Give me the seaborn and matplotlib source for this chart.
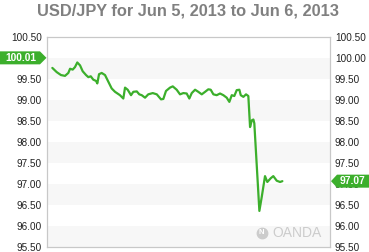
import matplotlib
matplotlib.use("Agg")
import matplotlib.pyplot as plt
import matplotlib.transforms as mtransforms
from matplotlib.patches import Polygon
import seaborn as sns
import pandas as pd

# ---- data (hours since chart start, USD/JPY rate) ----
hours = [0.49, 0.87, 1.24, 1.59, 1.88, 2.03, 2.26, 2.46, 2.66, 2.90,
         3.13, 3.42, 3.62, 3.83, 4.05, 4.29, 4.40, 4.55, 4.78, 5.07,
         5.36, 5.65, 5.94, 6.37, 6.66, 6.81, 7.04, 7.33, 7.53, 7.83,
         8.05, 8.26, 8.55, 8.83, 9.22, 9.57, 9.94, 10.14, 10.37, 10.72,
         10.96, 11.30, 11.59, 11.88, 12.17, 12.40, 12.61, 12.90, 13.18, 13.48,
         13.77, 14.05, 14.26, 14.49, 14.78, 15.07, 15.36, 15.65, 15.88, 16.09,
         16.31, 16.52, 16.75, 16.87, 17.10, 17.33, 17.53, 17.68, 17.83, 17.97,
         18.05, 18.49, 18.70, 18.98, 19.18, 19.48, 19.70, 20.00, 20.29, 20.49]
rates = [99.77, 99.67, 99.60, 99.58, 99.65, 99.75, 99.73, 99.79, 99.90, 99.83,
         99.69, 99.60, 99.55, 99.57, 99.49, 99.46, 99.40, 99.62, 99.65, 99.60,
         99.44, 99.28, 99.20, 99.12, 99.04, 99.30, 99.25, 99.12, 99.20, 99.21,
         99.14, 99.12, 99.06, 99.14, 99.17, 99.14, 99.02, 99.03, 99.22, 99.30,
         99.33, 99.25, 99.14, 99.17, 99.16, 99.04, 99.17, 99.25, 99.20, 99.14,
         99.20, 99.26, 99.25, 99.14, 99.12, 99.16, 99.12, 99.06, 98.96, 99.12,
         99.10, 99.24, 99.25, 99.12, 99.08, 99.14, 99.10, 98.36, 98.52, 98.54,
         98.45, 96.36, 96.70, 97.19, 97.05, 97.14, 97.19, 97.08, 97.05, 97.07]
y_ticks = [95.5, 96.0, 96.5, 97.0, 97.5, 98.0, 98.5, 99.0, 99.5, 100.0, 100.5]
x_ticks = [3.5, 6.5, 9.5, 12.5, 15.5, 18.5, 21.5, 24.5]
open_rate = 100.01
last_rate = 97.07
title = "USD/JPY for Jun 5, 2013 to Jun 6, 2013"

df = pd.DataFrame({"hour": hours, "rate": rates})

sns.set_style("white")
plt.rcParams["font.family"] = ["Liberation Sans", "DejaVu Sans"]

W, H = 369, 252
fig = plt.figure(figsize=(W / 100, H / 100), dpi=100)
ax = fig.add_axes([46.7 / W, 1 - 247 / H, (330 - 46.7) / W, (247 - 37.3) / H])

green = "#3caf2c"

# alternating bands
for i in range(0, len(y_ticks) - 1, 2):
    ax.axhspan(y_ticks[i], y_ticks[i + 1], color="#f7f7f7", lw=0, zorder=0)

sns.lineplot(data=df, x="hour", y="rate", ax=ax, color=green, lw=1.6, zorder=3)

ax.set_xlim(0, 24.63)
ax.set_ylim(95.5, 100.5)
ax.set_xlabel("")
ax.set_ylabel("")
ax.set_yticks(y_ticks)
ax.set_yticklabels([f"{v:.2f}" for v in y_ticks])
ax.set_xticks(x_ticks)
ax.set_xticklabels([])
ax.tick_params(axis="y", which="both", length=0, pad=3.5, labelsize=7.2,
               labelcolor="#222222", left=False, right=False,
               labelleft=True, labelright=True)
# the left 100.00 label lies under the opening-rate tag
for lab, v in zip(ax.yaxis.get_ticklabels(), y_ticks):
    if abs(v - round(open_rate * 2) / 2) < 1e-9:
        lab.set_visible(False)
ax.tick_params(axis="x", direction="in", length=3, color="#c8c8c8", width=0.8)
for s in ax.spines.values():
    s.set_color("#c8c8c8")
    s.set_linewidth(0.9)

fig.text(188 / W, 1 - 11 / H, title, ha="center", va="center",
         fontsize=11.8, fontweight="bold", color="#808080")

# value tags
blend = mtransforms.blended_transform_factory(fig.transFigure, ax.transData)
hh = 0.155  # half height in data units
def tag(x0, x1, tip, val, left):
    if left:
        pts = [(x0, val - hh), (x1, val - hh), (tip, val), (x1, val + hh), (x0, val + hh)]
    else:
        pts = [(x1, val - hh), (x0, val - hh), (tip, val), (x0, val + hh), (x1, val + hh)]
    p = Polygon(pts, closed=True, transform=blend, facecolor=green,
                edgecolor="none", clip_on=False, zorder=5)
    fig.add_artist(p)

tag(0 / W, 40 / W, 46.5 / W, open_rate, True)
fig.text(20.5 / W, open_rate, f"{open_rate:.2f}", transform=blend, ha="center",
         va="center", fontsize=7.4, fontweight="bold", color="white", zorder=6)
tag(337 / W, 369 / W, 331 / W, last_rate, False)
fig.text(353 / W, last_rate, f"{last_rate:.2f}", transform=blend,
         ha="center", va="center", fontsize=7.4, fontweight="bold",
         color="white", zorder=6)

# watermark
ax.text(0.972, 0.067, "OANDA", transform=ax.transAxes, ha="right",
        va="center", fontsize=10, color="#cccccc", zorder=2)
ax.plot([0.759], [0.067], "o", transform=ax.transAxes, ms=7.5,
        color="#cccccc", zorder=2)
ax.text(0.759, 0.067, "N", transform=ax.transAxes, ha="center", va="center",
        fontsize=5.5, fontweight="bold", color="white", zorder=2)

fig.savefig("out.png", dpi=100)
